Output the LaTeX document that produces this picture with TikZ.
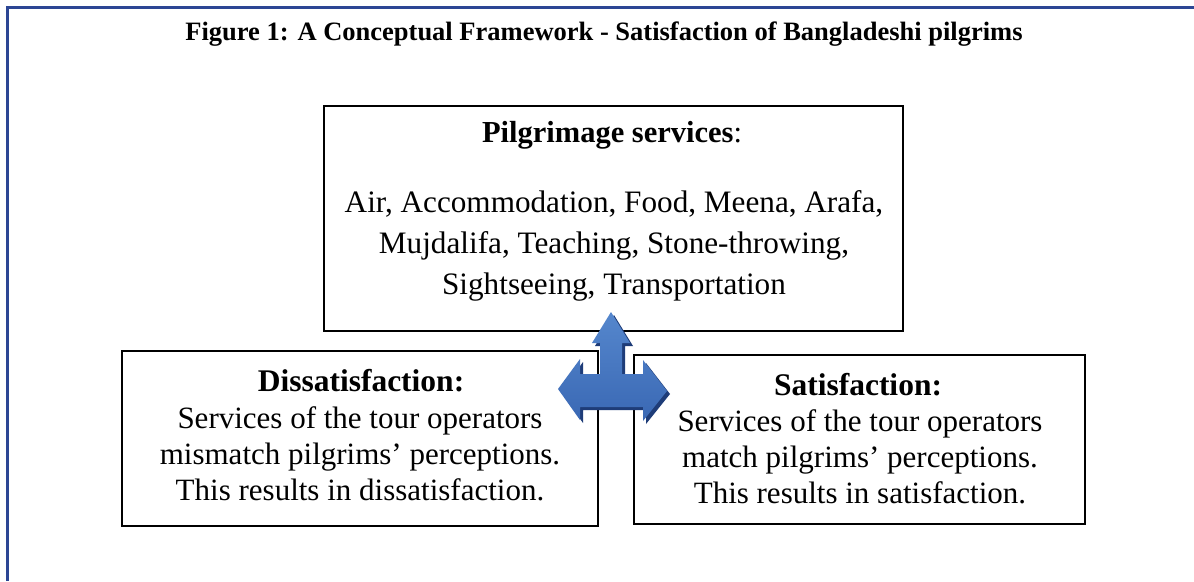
\documentclass[tikz,border=0pt]{standalone}
\usepackage{fontspec}
\setmainfont{Liberation Serif}
\begin{document}
\begin{tikzpicture}[x=1pt,y=-1pt,
  body/.style={font=\fontsize{31}{36}\selectfont,align=center,inner sep=0pt},
  frame/.style={line width=3pt,draw={rgb,255:red,44;green,70;blue,148}}]
\useasboundingbox (0,0) rectangle (1194,581);
\fill[white] (0,0) rectangle (1194,581);
% outer frame (only top and left visible)
\draw[frame] (7.5,581) -- (7.5,7.5) -- (1194,7.5);
% title
\node[font=\bfseries\fontsize{26.5}{30}\selectfont,inner sep=0pt] (title) at (604,34) {Figure 1: A Conceptual Framework - Satisfaction of Bangladeshi pilgrims};
% boxes
\draw[line width=2pt] (324,106) rectangle (903,331);
\node[inner sep=0pt] (topbox) at (613.5,218.5) {};
\draw[line width=2pt] (122,351) rectangle (598,526);
\node[inner sep=0pt] (leftbox) at (360,438.5) {};
\draw[line width=2pt] (634,355) rectangle (1085,524);
\node[inner sep=0pt] (rightbox) at (859.5,439.5) {};
% texts
\node[body,font=\fontsize{30.5}{36}\selectfont] (toph) at (612,135) {\textbf{Pilgrimage services}:};
\node[body,font=\fontsize{31.2}{41}\selectfont,anchor=north] (topt) at (614,190) {Air, Accommodation, Food, Meena, Arafa,\\Mujdalifa, Teaching, Stone-throwing,\\Sightseeing, Transportation};
\node[body,font=\fontsize{31.5}{36}\selectfont] (lefth) at (361,381) {\textbf{Dissatisfaction:}};
\node[body,anchor=north] (leftt) at (360,406) {Services of the tour operators\\mismatch pilgrims’ perceptions.\\This results in dissatisfaction.};
\node[body,font=\fontsize{31.5}{36}\selectfont] (righth) at (858,385) {\textbf{Satisfaction:}};
\node[body,anchor=north] (rightt) at (860,409) {Services of the tour operators\\match pilgrims’ perceptions.\\This results in satisfaction.};
% three-way arrow
\definecolor{arrdark}{RGB}{30,60,120}
\definecolor{arrmain}{RGB}{58,104,180}
\definecolor{arrlight}{RGB}{85,135,205}
\def\arrowpath{(611,312) -- (630,343) -- (622,343) -- (622,374) -- (643,374) -- (643,360) -- (667,391) -- (643,421) -- (643,407) -- (580,407) -- (580,420) -- (558,389) -- (580,359) -- (580,374) -- (600,374) -- (600,343) -- (592,343) -- cycle}
\fill[arrdark,shift={(3,3)}] \arrowpath;
\shade[top color=arrlight,bottom color=arrmain] \arrowpath;
\end{tikzpicture}
\end{document}
